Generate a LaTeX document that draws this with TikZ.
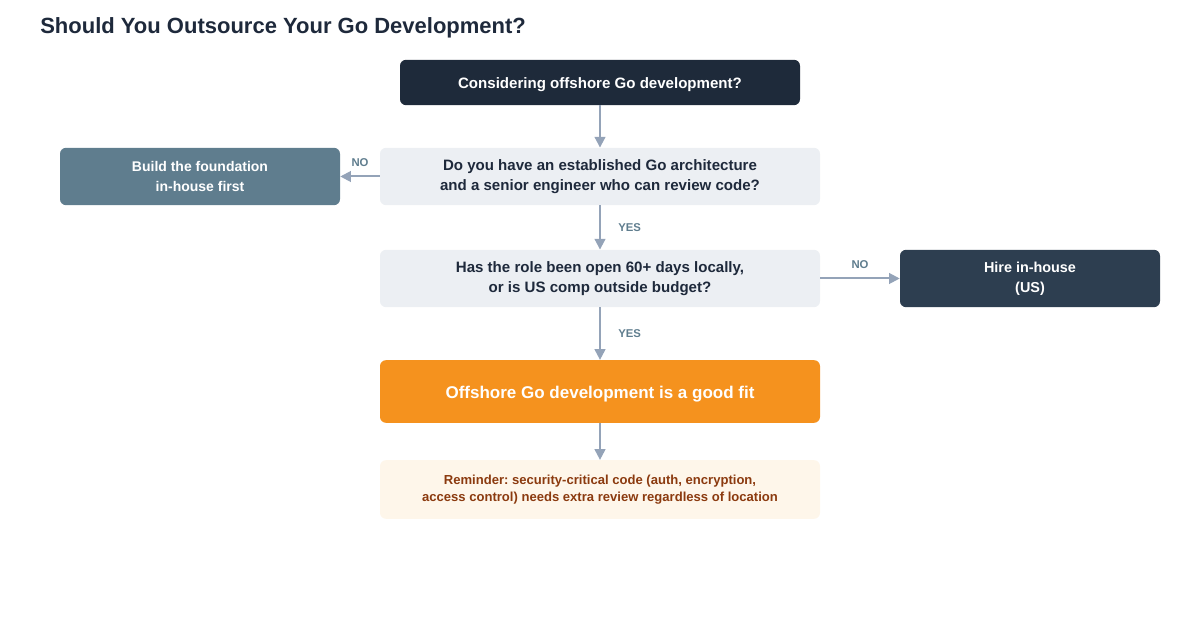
\documentclass[tikz,border=0pt]{standalone}
\usepackage{fontspec}
\setmainfont{Liberation Sans}
\usetikzlibrary{arrows.meta}
\definecolor{ink}{HTML}{1E293B}
\definecolor{startbg}{HTML}{1E2A3A}
\definecolor{askbg}{HTML}{ECEFF3}
\definecolor{slatebg}{HTML}{5F7D8E}
\definecolor{hirebg}{HTML}{2D3E50}
\definecolor{fitbg}{HTML}{F5921E}
\definecolor{notebg}{HTML}{FEF6EA}
\definecolor{notetext}{HTML}{8B3A0F}
\definecolor{linkcol}{HTML}{94A3B8}
\definecolor{labcol}{HTML}{5F7D8E}
\frenchspacing
\begin{document}
\begin{tikzpicture}[x=0.75pt,y=-0.75pt,
  box/.style={rounded corners=4.5pt, align=center, inner sep=0pt,
    font=\bfseries\fontsize{11.3}{15}\selectfont},
  ask/.style={box, fill=askbg, text=ink, minimum width=330pt, minimum height=43pt},
  link/.style={draw=linkcol, line width=1.5pt, -{Triangle[length=8pt,width=8pt]}},
  lab/.style={font=\bfseries\fontsize{8.5}{10}\selectfont, text=labcol, inner sep=0pt}]
\useasboundingbox (0,0) rectangle (1200,630);
\node[anchor=base west, text=ink, font=\bfseries\fontsize{16.5}{18}\selectfont, inner sep=0pt] (title) at (40,34) {Should You Outsource Your Go Development?};
% the questions, top to bottom
\node[box, fill=startbg, text=white, minimum width=300pt, minimum height=34pt, text height=9.6pt, text depth=0.8pt] (start) at (600,82.5) {Considering offshore Go development?};
\node[ask] (arch) at (600,176.5) {Do you have an established Go architecture\\and a senior engineer who can review code?};
\node[ask] (budget) at (600,278.5) {Has the role been open 60+ days locally,\\or is US comp outside budget?};
\node[box, fill=fitbg, text=white, minimum width=330pt, minimum height=47pt, text height=12pt, text depth=0.8pt, font=\bfseries\fontsize{12.75}{15}\selectfont] (fit) at (600,391.5) {Offshore Go development is a good fit};
\node[box, fill=notebg, text=notetext, minimum width=330pt, minimum height=44pt, font=\bfseries\fontsize{9.8}{13}\selectfont] (note) at (600,489.5) {Reminder: security-critical code (auth, encryption,\\access control) needs extra review regardless of location};
% the two way-outs
\node[box, fill=slatebg, text=white, minimum width=210pt, minimum height=43pt, font=\bfseries\fontsize{10.5}{15}\selectfont] (found) at (200,176.5) {Build the foundation\\in-house first};
\node[box, fill=hirebg, text=white, minimum width=195pt, minimum height=43pt, font=\bfseries\fontsize{10.8}{15}\selectfont] (hire) at (1030,278.5) {Hire in-house\\(US)};
% connectors
\draw[link] (start) -- (arch);
\draw[link] (arch) -- node[lab, pos=.5, right=13pt] {YES} (budget);
\draw[link] (budget) -- node[lab, pos=.5, right=13pt] {YES} (fit);
\draw[link] (fit) -- (note);
\draw[link] (arch) -- node[lab, pos=.5, above=6.5pt] {NO} (found);
\draw[link] (budget) -- node[lab, pos=.5, above=6.5pt] {NO} (hire);
\end{tikzpicture}
\end{document}
